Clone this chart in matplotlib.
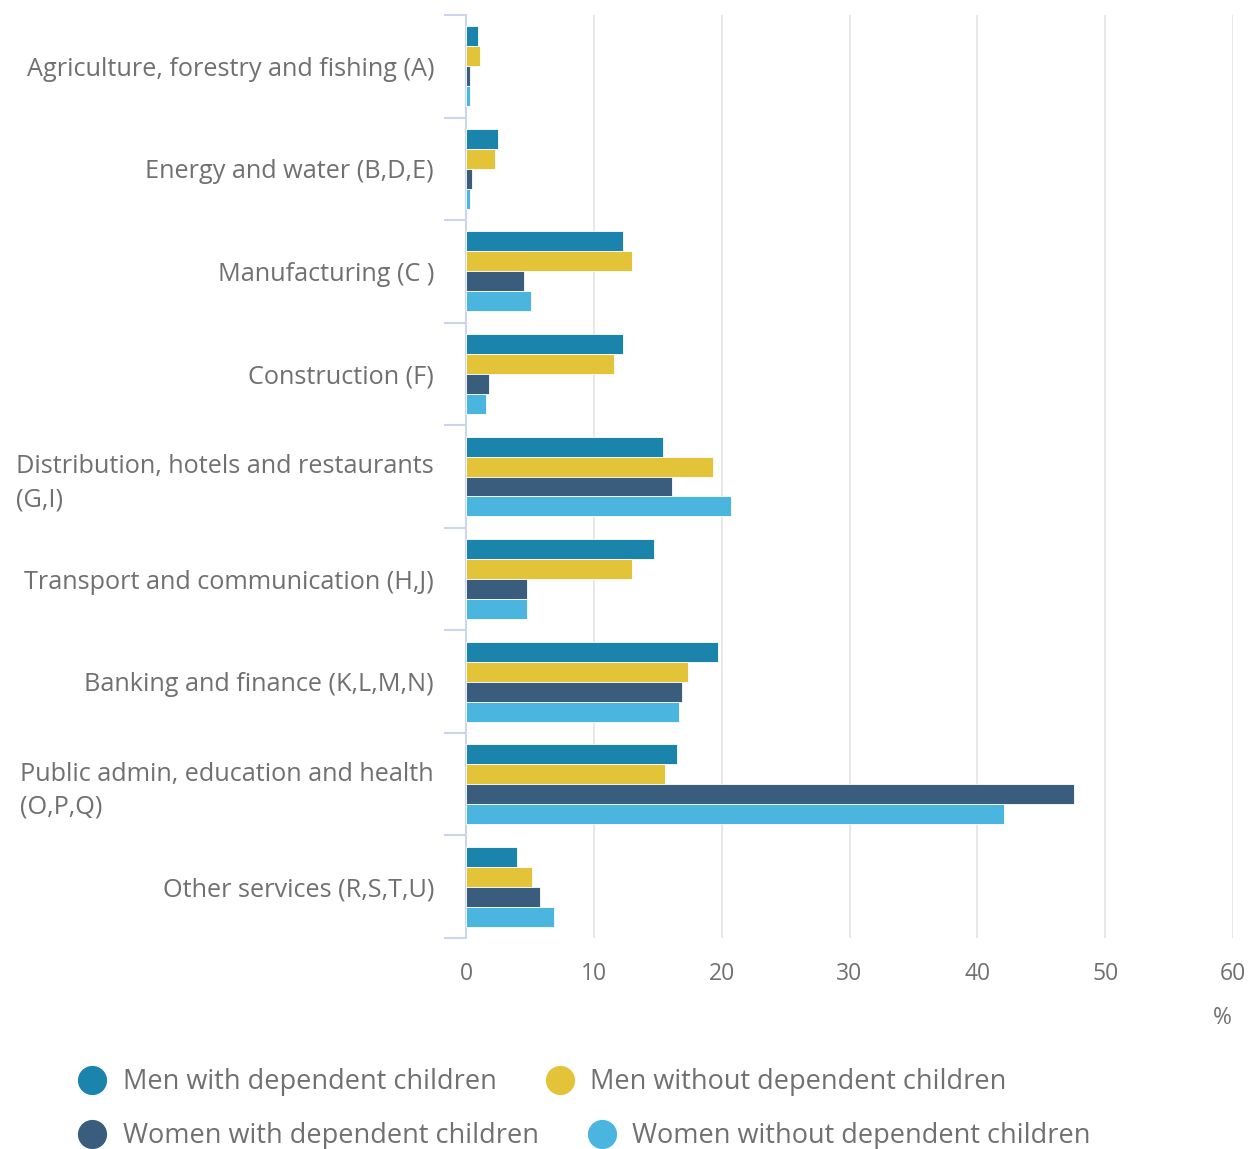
import numpy as np
import matplotlib
matplotlib.use("Agg")
import matplotlib.pyplot as plt
from matplotlib.lines import Line2D

plt.rcParams['font.family'] = ['Open Sans', 'DejaVu Sans']

# industry sectors (top to bottom)
sectors = [
    "Agriculture, forestry and fishing (A)",
    "Energy and water (B,D,E)",
    "Manufacturing (C )",
    "Construction (F)",
    "Distribution, hotels and restaurants\n(G,I)",
    "Transport and communication (H,J)",
    "Banking and finance (K,L,M,N)",
    "Public admin, education and health\n(O,P,Q)",
    "Other services (R,S,T,U)",
]

# % of each group employed in the sector
men_with = [0.9, 2.5, 12.3, 12.3, 15.4, 14.7, 19.7, 16.5, 4.0]
men_without = [1.1, 2.3, 13.0, 11.6, 19.3, 13.0, 17.4, 15.6, 5.2]
women_with = [0.3, 0.5, 4.5, 1.8, 16.1, 4.8, 16.9, 47.6, 5.75]
women_without = [0.35, 0.35, 5.1, 1.6, 20.7, 4.8, 16.7, 42.1, 6.9]

series_names = ["Men with dependent children", "Men without dependent children",
                "Women with dependent children", "Women without dependent children"]
series_vals = [men_with, men_without, women_with, women_without]
colors = ["#1a84ad", "#e3c337", "#3a5d7e", "#4ab5de"]

xticks = [0, 10, 20, 30, 40, 50, 60]

txt = "#707070"

fig = plt.figure(figsize=(12.57, 11.49), dpi=100)
ax = fig.add_axes([466/1257, 1 - 938/1149, (1233 - 466)/1257, (938 - 15)/1149])

n = len(sectors)
y = np.arange(n)
h = 0.195
for i, (name, vals) in enumerate(zip(series_names, series_vals)):
    ax.barh(y + (i - 1.5) * h, vals, height=h, color=colors[i],
            edgecolor="white", linewidth=0.6, label=name, zorder=3)

ax.set_xlim(0, 60)
ax.set_ylim(n - 0.5, -0.5)
ax.set_xticks(xticks)
ax.set_xticklabels([str(t) for t in xticks])
ax.xaxis.grid(True, color="#e6e6e6", linewidth=1.3, zorder=0)
ax.tick_params(axis="x", length=0, pad=17, labelsize=16.5, labelcolor=txt)

ax.set_yticks(y)
ax.set_yticklabels(sectors)
for lab in ax.get_yticklabels():
    lab.set_multialignment("left")
    lab.set_linespacing(1.4)
ax.set_yticks(np.arange(n + 1) - 0.5, minor=True)
ax.tick_params(axis="y", which="major", length=0, pad=23, labelsize=18.2, labelcolor=txt)
ax.tick_params(axis="y", which="minor", length=16, width=1.5, color="#ccd6eb")

for s in ["top", "right", "bottom"]:
    ax.spines[s].set_visible(False)
ax.spines["left"].set_color("#ccd6eb")
ax.spines["left"].set_linewidth(1.5)

fig.text(1222/1257, 1 - 1018/1149, "%", ha="center", va="center", fontsize=16.5, color=txt)

# legend: two rows, items flow left to right like the original
handles = [Line2D([], [], marker="o", linestyle="", markersize=20, color=c) for c in colors]
rows = [[0, 1], [2, 3]]
row_y = [1082, 1136]
for r, yy in zip(rows, row_y):
    leg = fig.legend([handles[k] for k in r], [series_names[k] for k in r],
                     loc="center left", bbox_to_anchor=(76/1257, 1 - yy/1149), ncol=2,
                     frameon=False, fontsize=19.5, handletextpad=0.52, columnspacing=1.74,
                     handlelength=1.2, borderaxespad=0, borderpad=0)
    for t in leg.get_texts():
        t.set_color(txt)

fig.savefig("out.png", dpi=100)
